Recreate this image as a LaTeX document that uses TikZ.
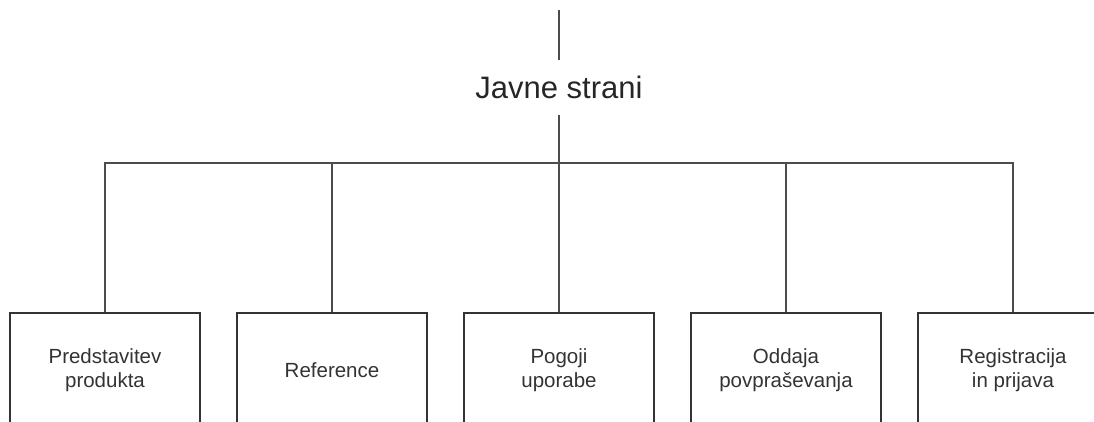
\documentclass[tikz,border=0pt]{standalone}
\usepackage{fontspec}
\setmainfont{Liberation Sans}
\begin{document}
\begin{tikzpicture}[x=1pt,y=-1pt,
  conn/.style={draw=black!70, line width=1.7pt},
  pagebox/.style={draw=black!80, line width=2.6pt, minimum width=190pt,
    minimum height=114pt, inner sep=0pt, align=center,
    font=\fontsize{20.5}{24}\selectfont, text=black!80},
  titlebox/.style={minimum height=55pt, inner sep=0pt,
    font=\fontsize{31}{36}\selectfont, text=black!85}]
\clip (0,0) rectangle (1094,421);
% section title with its incoming line
\coordinate (entry) at (559,10);
\node[titlebox] (title) at (559,87.5) {Javne strani};
\draw[conn] (entry) -- (title.north);
% bus junction
\coordinate (hub) at (559,163);
\draw[conn] (title.south) -- (hub);
% child pages
\node[pagebox] (p1) at (105,370) {Predstavitev\\produkta};
\node[pagebox] (p2) at (332,370) {Reference};
\node[pagebox] (p3) at (559,370) {Pogoji\\uporabe};
\node[pagebox] (p4) at (786,370) {Oddaja\\povpraševanja};
\node[pagebox] (p5) at (1013,370) {Registracija\\in prijava};
\foreach \p in {p1,p2,p3,p4,p5}
  \draw[conn] (hub) -| (\p.north);
\end{tikzpicture}
\end{document}
